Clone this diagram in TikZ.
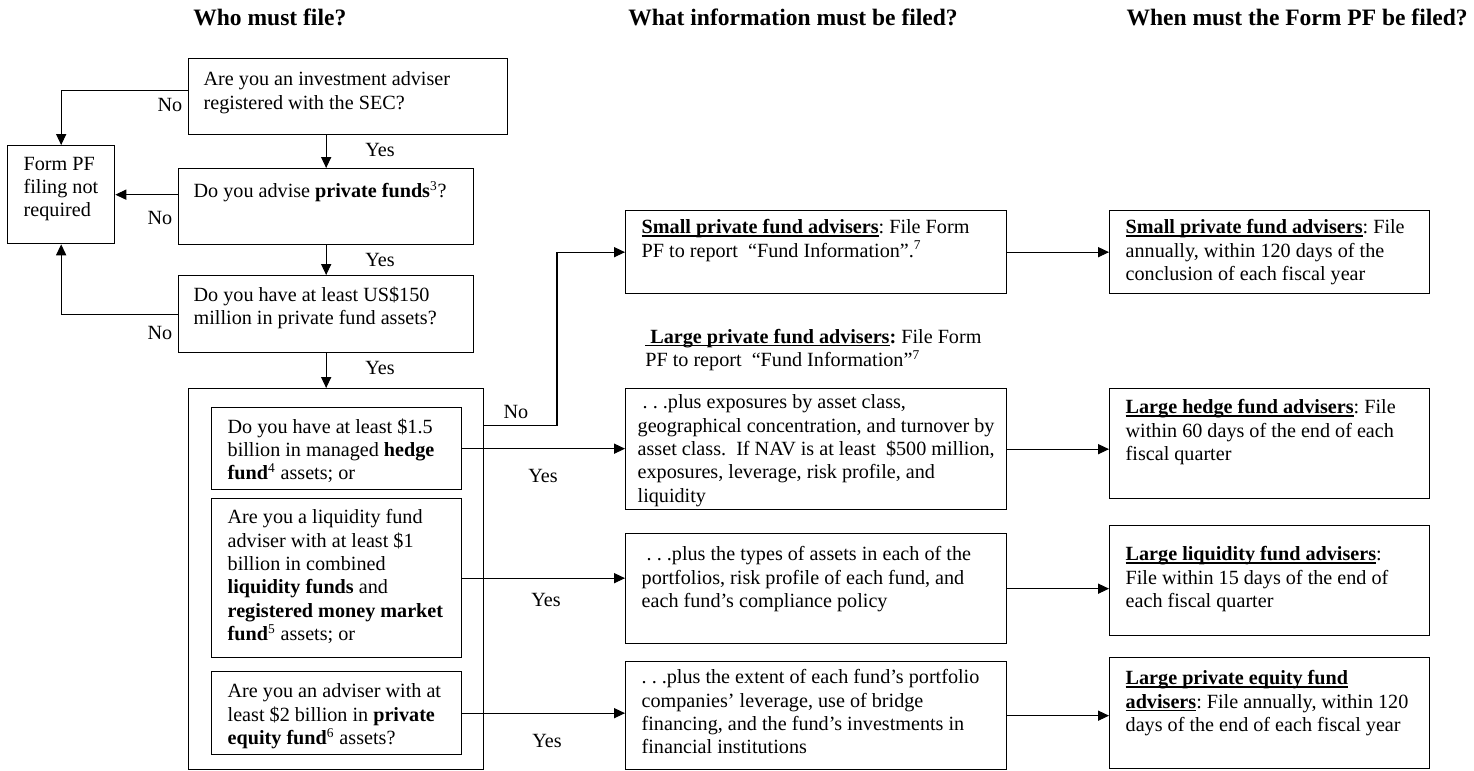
\documentclass[tikz,border=0pt]{standalone}
\usepackage{fontspec}
\setmainfont{Liberation Serif}
\usetikzlibrary{arrows.meta, positioning}
\newlength{\unitpx}
\setlength{\unitpx}{0.595pt}
% text cell: width, height, left pad, top pad, lines
\newcommand{\cell}[5]{\parbox[t][#2\unitpx][t]{#1\unitpx}{\leftskip=#3\unitpx\rightskip=-40pt plus 1fil\parfillskip=0pt plus 1fil\relax\vspace*{#4\unitpx}\rule{0pt}{8pt}#5}}
\newcommand{\ulbf}[1]{\setbox0=\hbox{\bfseries #1}\rlap{\rule[-1.7pt]{\wd0}{0.75pt}}\box0}
\begin{document}
\begin{tikzpicture}[x=0.595pt, y=-0.595pt, every node/.style={font=\fontsize{12pt}{13.9pt}\selectfont\frenchspacing}]
        \tikzstyle{box} = [draw = black, line width = 0.8pt, anchor = north west, inner sep = 0pt]
        \tikzstyle{lbl} = [inner sep = 0pt]
        \tikzstyle{head} = [inner sep = 0pt, font = \fontsize{14pt}{16pt}\selectfont\bfseries]
        \tikzstyle{connect} = [-{Triangle[length = 6.5pt, width = 6pt]}, line width = 0.6pt]
        \useasboundingbox (0,0) rectangle (1474,771);
        \node[head, anchor = base west] (who) at (193,26) {Who must file?};
        \node[head, anchor = base west] (what) at (628,26) {What information must be filed?};
        \node[head, anchor = base east] (when) at (1468,26) {When must the Form PF be filed?};
        % who must file
        \node[box] (sec) at (188,58) {\cell{319}{76}{15}{13}{Are you an investment adviser\\registered with the SEC?}};
        \node[box] (pfnot) at (7,145) {\cell{107}{98}{16}{11}{Form PF\\filing not\\required}};
        \node[box] (advise) at (178,168) {\cell{295}{76}{15}{13}{Do you advise \textbf{private funds}\textsuperscript{3}?}};
        \node[box] (assets) at (178,275) {\cell{295}{77}{15}{11}{Do you have at least US\$150\\million in private fund assets?}};
        \node[box] (tiers) at (188,388) {\cell{295}{381}{0}{0}{}};
        \node[box] (hedge) at (211,407) {\cell{250}{82}{16}{11}{Do you have at least \$1.5\\billion in managed \textbf{hedge}\\\textbf{fund}\textsuperscript{4} assets; or}};
        \node[box] (liquid) at (211,498) {\cell{250}{159}{16}{11}{Are you a liquidity fund\\adviser with at least \$1\\billion in combined\\\textbf{liquidity funds} and\\\textbf{registered money market}\\\textbf{fund}\textsuperscript{5} assets; or}};
        \node[box] (equity) at (211,671) {\cell{250}{83}{16}{12}{Are you an adviser with at\\least \$2 billion in \textbf{private}\\\textbf{equity fund}\textsuperscript{6} assets?}};
        % what information must be filed
        \node[box] (smallinfo) at (625,210) {\cell{381}{83}{16}{9}{\ulbf{Small private fund advisers}: File Form\\PF to report\ \ “Fund Information”.\textsuperscript{7}}};
        \node[lbl, anchor = north west] (largecap) at (625,325) {\cell{381}{50}{20}{4}{\ulbf{\ Large private fund advisers}\textbf{:} File Form\\PF to report\ \ “Fund Information”\textsuperscript{7}}};
        \node[box] (expo) at (625,388) {\cell{381}{121}{12}{6}{\ .\ .\ .plus exposures by asset class,\\geographical concentration, and turnover by\\asset class.\ \ If NAV is at least\ \ \$500 million,\\exposures, leverage, risk profile, and\\liquidity}};
        \node[box] (types) at (625,533) {\cell{381}{110}{16}{13}{\ .\ .\ .plus the types of assets in each of the\\portfolios, risk profile of each fund, and\\each fund’s compliance policy}};
        \node[box] (extent) at (625,661) {\cell{381}{108}{16}{8}{.\ .\ .plus the extent of each fund’s portfolio\\companies’ leverage, use of bridge\\financing, and the fund’s investments in\\financial institutions}};
        % when must the form be filed
        \node[box] (smalltime) at (1109,210) {\cell{320}{83}{16}{9}{\ulbf{Small private fund advisers}: File\\annually, within 120 days of the\\conclusion of each fiscal year}};
        \node[box] (hedgetime) at (1109,388) {\cell{320}{110}{16}{11}{\ulbf{Large hedge fund advisers}: File\\within 60 days of the end of each\\fiscal quarter}};
        \node[box] (liqtime) at (1109,525) {\cell{320}{110}{16}{21}{\ulbf{Large liquidity fund advisers}:\\File within 15 days of the end of\\each fiscal quarter}};
        \node[box] (petime) at (1109,657) {\cell{320}{111}{16}{13}{\ulbf{Large private equity fund}\\\ulbf{advisers}: File annually, within 120\\days of the end of each fiscal year}};
        % yes / no labels
        \node[lbl] (no1) at (170,105) {No};
        \node[lbl] (no2) at (160,218) {No};
        \node[lbl] (no3) at (160,333) {No};
        \node[lbl] (no4) at (516,412) {No};
        \node[lbl] (yes1) at (380,150) {Yes};
        \node[lbl] (yes2) at (380,260) {Yes};
        \node[lbl] (yes3) at (380,368) {Yes};
        \node[lbl] (yes4) at (543,476) {Yes};
        \node[lbl] (yes5) at (546,600) {Yes};
        \node[lbl] (yes6) at (547,741) {Yes};
        \coordinate (nobend) at (557,0);
        \draw[connect] ([yshift = 3.6pt]sec.west) -| (pfnot.north);
        \draw[connect] (assets.west) -| (pfnot.south);
        \draw[connect] ([yshift = -22.6pt]tiers.north east) -| (nobend |- smallinfo.west) -- (smallinfo.west);
        \path (pfnot.east -| advise.west) edge [connect] (pfnot.east)
        (sec.south -| advise.north) edge [connect] (advise.north)
        (advise.south) edge [connect] (assets.north)
        (assets.south) edge [connect] (assets.south |- tiers.north)
        (hedge.east) edge [connect] (hedge.east -| expo.west)
        (liquid.east) edge [connect] (liquid.east -| types.west)
        (equity.east) edge [connect] (equity.east -| extent.west)
        (smallinfo.east) edge [connect] (smallinfo.east -| smalltime.west)
        (expo.east) edge [connect] (expo.east -| hedgetime.west)
        (types.east) edge [connect] (types.east -| liqtime.west)
        (extent.east) edge [connect] (extent.east -| petime.west);
      \end{tikzpicture}
\end{document}
